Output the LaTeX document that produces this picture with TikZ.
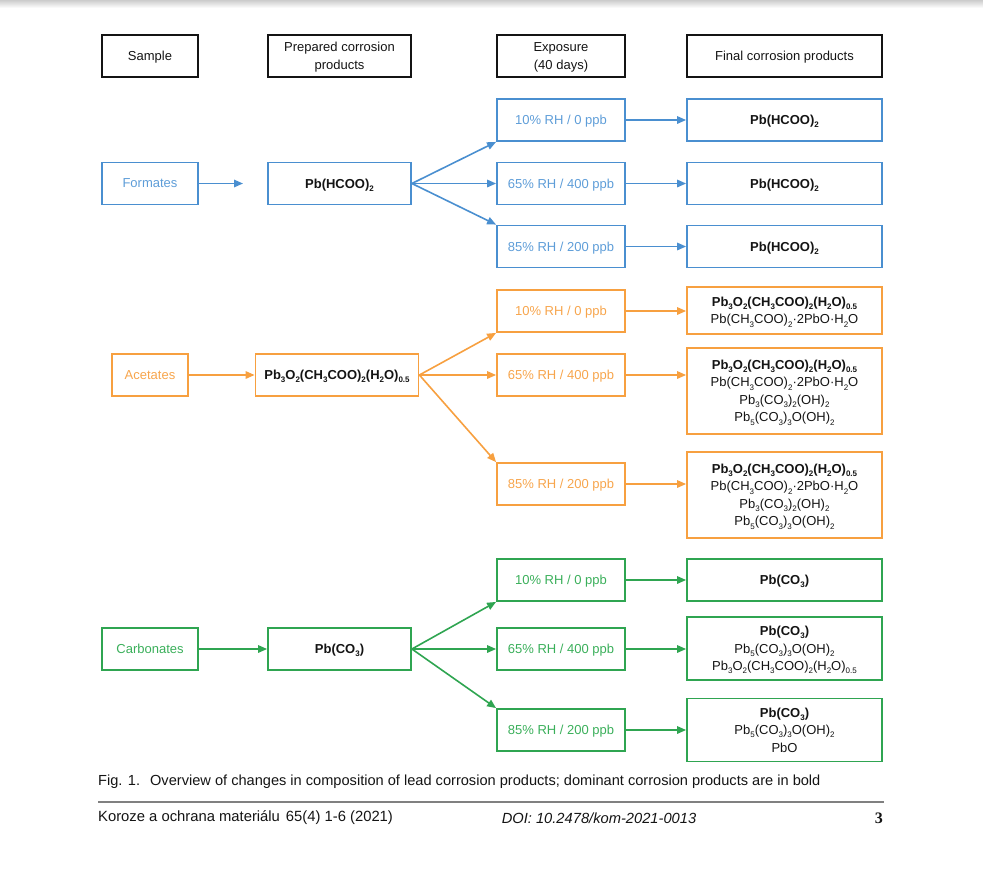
\documentclass[tikz,border=0pt]{standalone}
\usepackage{fontspec}
\setmainfont{Liberation Sans}
\newfontfamily\serifbold{Liberation Serif}
\usetikzlibrary{arrows.meta}
\definecolor{fblue}{HTML}{4A8FD0}
\definecolor{fbluet}{HTML}{5E9DD8}
\definecolor{forange}{HTML}{F7A040}
\definecolor{forauget}{HTML}{F7A54C}
\definecolor{fgreen}{HTML}{2FA551}
\definecolor{fgreent}{HTML}{3AAF5A}
\definecolor{ink}{HTML}{141414}
\newcommand{\ssub}[1]{\raisebox{-0.45ex}{\fontsize{8}{8}\selectfont #1}}
\newcommand{\nf}{\fontsize{13}{17.5}\selectfont}
\newcommand{\capf}{\fontsize{14.6}{17}\selectfont}
\tikzset{
  hdr/.style={draw=ink, line width=1.6pt, inner sep=0pt, align=center, font=\nf, text=ink, text depth=0pt},
  cbox/.style={draw=#1, line width=1.8pt, inner sep=0pt, align=center, font=\nf, text=ink, text depth=0pt},
  ebox/.style={draw=#1, line width=1.8pt, inner sep=0pt, align=center, font=\nf, text depth=0pt},
  arr/.style={draw=#1, line width=1.6pt, -{Triangle[length=9pt,width=7.5pt]}},
}
\begin{document}
\begin{tikzpicture}[x=1pt,y=-1pt]
\useasboundingbox (0,0) rectangle (983,871);
\shade[top color=black!20, bottom color=white] (0,0) rectangle (983,8);
% headers
\node[hdr, minimum width=96, minimum height=42] (hs) at (150,56) {Sample};
\node[hdr, minimum width=143, minimum height=42] (hp) at (339.5,56) {Prepared corrosion\\products};
\node[hdr, minimum width=128, minimum height=42] (he) at (561,56) {Exposure\\(40 days)};
\node[hdr, minimum width=195, minimum height=42] (hf) at (784.5,56) {Final corrosion products};
% ---------------- Formates
\node[ebox=fblue, text=fbluet, minimum width=96, minimum height=42] (fs) at (150,183.5) {Formates};
\coordinate (fsend) at (243,183.5);
\node[cbox=fblue, minimum width=143, minimum height=42] (fp) at (339.5,183.5) {\textbf{Pb(HCOO)\ssub{2}}};
\node[ebox=fblue, text=fbluet, minimum width=128, minimum height=42] (fe1) at (561,120) {10\% RH / 0 ppb};
\node[ebox=fblue, text=fbluet, minimum width=128, minimum height=42] (fe2) at (561,183.5) {65\% RH / 400 ppb};
\node[ebox=fblue, text=fbluet, minimum width=128, minimum height=42] (fe3) at (561,246.5) {85\% RH / 200 ppb};
\node[cbox=fblue, minimum width=195, minimum height=42] (ff1) at (784.5,120) {\textbf{Pb(HCOO)\ssub{2}}};
\node[cbox=fblue, minimum width=195, minimum height=42] (ff2) at (784.5,183.5) {\textbf{Pb(HCOO)\ssub{2}}};
\node[cbox=fblue, minimum width=195, minimum height=42] (ff3) at (784.5,246.5) {\textbf{Pb(HCOO)\ssub{2}}};
\draw[arr=fblue] (fs.east) -- (fsend);
\draw[arr=fblue] (fp.east) -- (fe1.south west);
\draw[arr=fblue] (fp.east) -- (fe2.west);
\draw[arr=fblue] (fp.east) -- (fe3.north west);
\draw[arr=fblue] (fe1.east) -- (ff1.west);
\draw[arr=fblue] (fe2.east) -- (ff2.west);
\draw[arr=fblue] (fe3.east) -- (ff3.west);
% ---------------- Acetates
\node[ebox=forange, text=forauget, minimum width=76, minimum height=42] (as) at (150,375) {Acetates};
\node[cbox=forange, minimum width=163, minimum height=42] (ap) at (337,375) {\textbf{Pb\ssub{3}O\ssub{2}(CH\ssub{3}COO)\ssub{2}(H\ssub{2}O)\ssub{0.5}}};
\node[ebox=forange, text=forauget, minimum width=128, minimum height=42] (ae1) at (561,311) {10\% RH / 0 ppb};
\node[ebox=forange, text=forauget, minimum width=128, minimum height=42] (ae2) at (561,375) {65\% RH / 400 ppb};
\node[ebox=forange, text=forauget, minimum width=128, minimum height=42] (ae3) at (561,484) {85\% RH / 200 ppb};
\node[cbox=forange, minimum width=195, minimum height=47] (af1) at (784.5,310.5) {\textbf{Pb\ssub{3}O\ssub{2}(CH\ssub{3}COO)\ssub{2}(H\ssub{2}O)\ssub{0.5}}\\Pb(CH\ssub{3}COO)\ssub{2}·2PbO·H\ssub{2}O};
\node[cbox=forange, minimum width=195, minimum height=86] (af2) at (784.5,391) {\textbf{Pb\ssub{3}O\ssub{2}(CH\ssub{3}COO)\ssub{2}(H\ssub{2}O)\ssub{0.5}}\\Pb(CH\ssub{3}COO)\ssub{2}·2PbO·H\ssub{2}O\\Pb\ssub{3}(CO\ssub{3})\ssub{2}(OH)\ssub{2}\\Pb\ssub{5}(CO\ssub{3})\ssub{3}O(OH)\ssub{2}};
\node[cbox=forange, minimum width=195, minimum height=86] (af3) at (784.5,495) {\textbf{Pb\ssub{3}O\ssub{2}(CH\ssub{3}COO)\ssub{2}(H\ssub{2}O)\ssub{0.5}}\\Pb(CH\ssub{3}COO)\ssub{2}·2PbO·H\ssub{2}O\\Pb\ssub{3}(CO\ssub{3})\ssub{2}(OH)\ssub{2}\\Pb\ssub{5}(CO\ssub{3})\ssub{3}O(OH)\ssub{2}};
\draw[arr=forange] (as.east) -- (ap.west);
\draw[arr=forange] (ap.east) -- (ae1.south west);
\draw[arr=forange] (ap.east) -- (ae2.west);
\draw[arr=forange] (ap.east) -- (ae3.north west);
\draw[arr=forange] (ae1.east) -- (ae1.east -| af1.west);
\draw[arr=forange] (ae2.east) -- (ae2.east -| af2.west);
\draw[arr=forange] (ae3.east) -- (ae3.east -| af3.west);
% ---------------- Carbonates
\node[ebox=fgreen, text=fgreent, minimum width=96, minimum height=42] (cs) at (150,649) {Carbonates};
\node[cbox=fgreen, minimum width=143, minimum height=42] (cp) at (339.5,649) {\textbf{Pb(CO\ssub{3})}};
\node[ebox=fgreen, text=fgreent, minimum width=128, minimum height=42] (ce1) at (561,580) {10\% RH / 0 ppb};
\node[ebox=fgreen, text=fgreent, minimum width=128, minimum height=42] (ce2) at (561,649) {65\% RH / 400 ppb};
\node[ebox=fgreen, text=fgreent, minimum width=128, minimum height=42] (ce3) at (561,730) {85\% RH / 200 ppb};
\node[cbox=fgreen, minimum width=195, minimum height=42] (cf1) at (784.5,580) {\textbf{Pb(CO\ssub{3})}};
\node[cbox=fgreen, minimum width=195, minimum height=63] (cf2) at (784.5,648.5) {\textbf{Pb(CO\ssub{3})}\\Pb\ssub{5}(CO\ssub{3})\ssub{3}O(OH)\ssub{2}\\Pb\ssub{3}O\ssub{2}(CH\ssub{3}COO)\ssub{2}(H\ssub{2}O)\ssub{0.5}};
\node[cbox=fgreen, minimum width=195, minimum height=63] (cf3) at (784.5,730) {\textbf{Pb(CO\ssub{3})}\\Pb\ssub{5}(CO\ssub{3})\ssub{3}O(OH)\ssub{2}\\PbO};
\draw[arr=fgreen] (cs.east) -- (cp.west);
\draw[arr=fgreen] (cp.east) -- (ce1.south west);
\draw[arr=fgreen] (cp.east) -- (ce2.west);
\draw[arr=fgreen] (cp.east) -- (ce3.north west);
\draw[arr=fgreen] (ce1.east) -- (ce1.east -| cf1.west);
\draw[arr=fgreen] (ce2.east) -- (ce2.east -| cf2.west);
\draw[arr=fgreen] (ce3.east) -- (ce3.east -| cf3.west);
% ---------------- caption and footer
\node[anchor=west, inner sep=0pt, font=\capf, text=ink] (cap) at (98,782) {Fig. 1.\hspace{10pt}Overview of changes in composition of lead corrosion products; dominant corrosion products are in bold};
\coordinate (rl) at (98,802);
\coordinate (rr) at (884,802);
\draw[line width=1.5pt, black!50] (rl) -- (rr);
\node[anchor=west, inner sep=0pt, font=\fontsize{14.8}{17}\selectfont, text=ink] (ft1) at (98,818) {Koroze a ochrana materiálu\hspace{6pt}65(4) 1-6 (2021)};
\node[inner sep=0pt, font=\fontsize{14.7}{17}\selectfont\itshape, text=ink] (ft2) at (599,818) {DOI: 10.2478/kom-2021-0013};
\node[anchor=east, inner sep=0pt, font=\fontsize{16}{18}\selectfont\serifbold\bfseries, text=ink] (ft3) at (883,818) {3};
\end{tikzpicture}
\end{document}
